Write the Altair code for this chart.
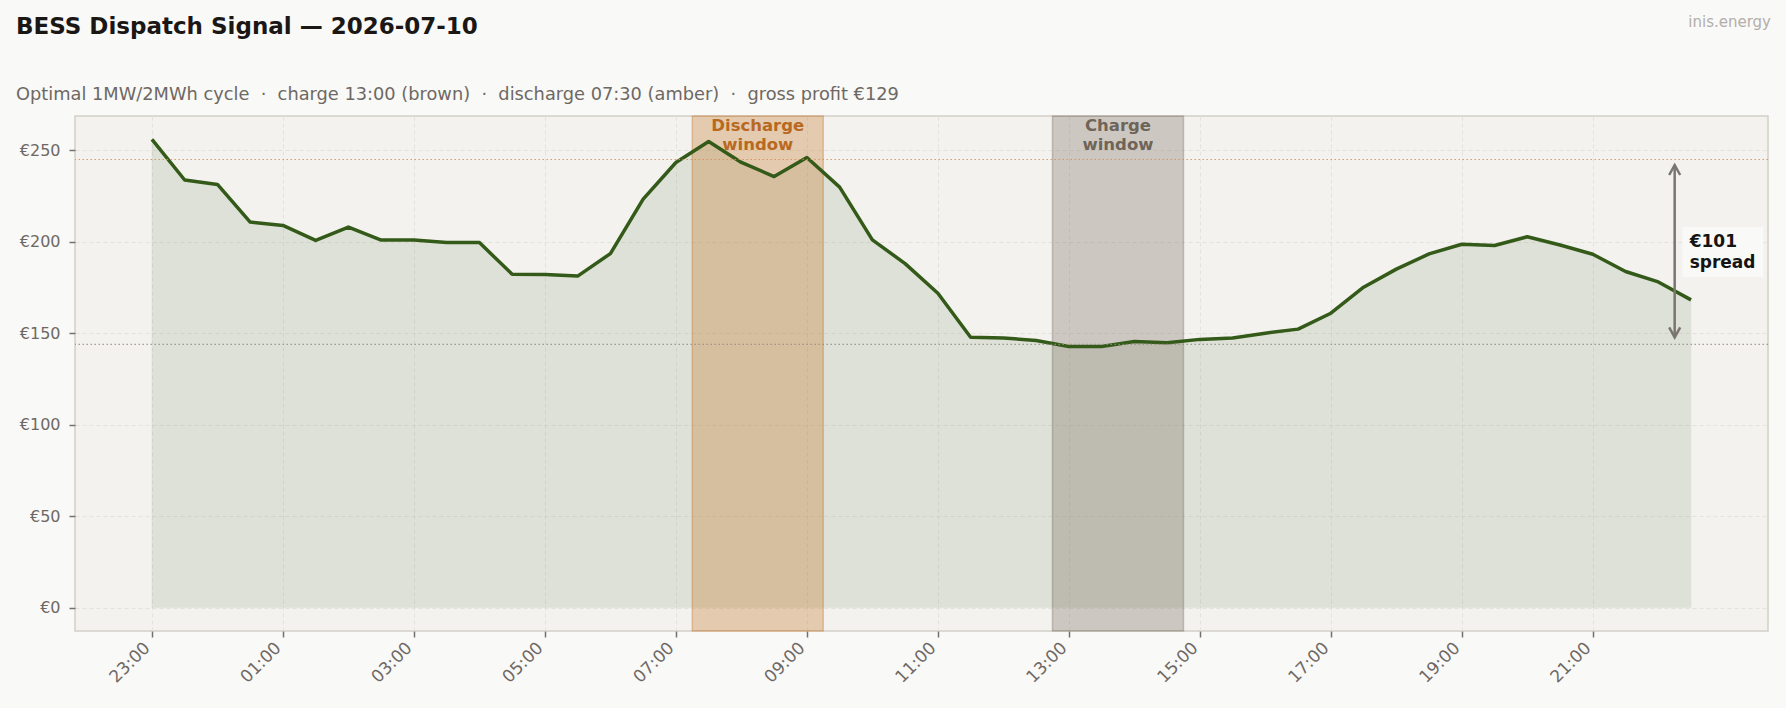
import altair as alt
import pandas as pd

# ---------------- data ----------------
date_label = "2026-07-10"
slot_start = "2026-07-09 23:00"
prices = [255.9, 233.7, 231.3, 210.7, 208.9, 200.7, 208.0, 200.9, 200.9, 199.5,
          199.5, 182.2, 182.0, 181.2, 193.5, 223.3, 243.3, 254.8, 243.3, 235.6,
          246.0, 229.8, 201.0, 188.0, 171.8, 147.8, 147.4, 146.0, 142.7, 142.7,
          145.4, 144.8, 146.6, 147.4, 150.0, 152.2, 160.9, 175.1, 185.0, 193.3,
          198.6, 197.9, 202.7, 198.2, 193.1, 183.7, 178.0, 168.2]

window_names = ["Discharge", "Charge"]
window_starts = ["2026-07-10 07:15", "2026-07-10 12:45"]
window_ends = ["2026-07-10 09:15", "2026-07-10 14:45"]
window_slots = [["2026-07-10 07:30", "2026-07-10 08:00", "2026-07-10 08:30", "2026-07-10 09:00"],
                ["2026-07-10 13:00", "2026-07-10 13:30", "2026-07-10 14:00", "2026-07-10 14:30"]]
spread_time = "2026-07-10 22:15"

x_tick_times = ["2026-07-09 23:00", "2026-07-10 01:00", "2026-07-10 03:00", "2026-07-10 05:00",
                "2026-07-10 07:00", "2026-07-10 09:00", "2026-07-10 11:00", "2026-07-10 13:00",
                "2026-07-10 15:00", "2026-07-10 17:00", "2026-07-10 19:00", "2026-07-10 21:00"]
y_ticks = [0, 50, 100, 150, 200, 250]

title_text = f"BESS Dispatch Signal \u2014 {date_label}"
subtitle_text = ("Optimal 1MW/2MWh cycle \u00a0\u00b7\u00a0 charge 13:00 (brown) \u00a0\u00b7\u00a0 "
                 "discharge 07:30 (amber) \u00a0\u00b7\u00a0 gross profit \u20ac129")
brand_text = "inis.energy"

# ---------------- styling ----------------
FONT = "DejaVu Sans"
GREEN = "#345a19"
AMBER = "#c2701f"
BROWN = "#74665b"
AMBER_TXT = "#b8691f"
BROWN_TXT = "#6f6458"
AMBER_LVL = "#e08a45"
BROWN_LVL = "#958c84"
ARROW = "#7b7571"


def ms(ts):
    return int(pd.Timestamp(ts, tz="UTC").value // 10**6)


times = pd.date_range(slot_start, periods=len(prices), freq="30min")
df = pd.DataFrame({"t": [ms(t) for t in times], "price": prices})

price_by_time = dict(zip([ms(t) for t in times], prices))
window_means = [sum(price_by_time[ms(s)] for s in slots) / len(slots) for slots in window_slots]
hi, lo = window_means[0], window_means[1]

span_h = (times[-1] - times[0]) * 0.05
x_domain = [ms(times[0] - span_h), ms(times[-1] + span_h)]
y_max = max(prices)
y_domain = [-0.05 * y_max, 1.05 * y_max]

xscale = alt.Scale(type="utc", domain=x_domain, nice=False)
yscale = alt.Scale(domain=y_domain, nice=False, zero=False)
xaxis = alt.Axis(values=[ms(t) for t in x_tick_times], format="%H:%M", labelAngle=-45,
                 labelAlign="right", labelBaseline="middle", labelPadding=8,
                 labelOffset=-5, labelFontSize=17, title=None)
yaxis = alt.Axis(values=y_ticks, labelExpr="'\u20ac' + datum.value", labelPadding=9,
                 labelFontSize=16, title=None)


def X(field, **kw):
    return alt.X(field, type="temporal", scale=xscale, axis=xaxis, **kw)


def Y(field, **kw):
    return alt.Y(field, type="quantitative", scale=yscale, axis=yaxis, **kw)


base = alt.Chart(df)

area = base.mark_area(color=GREEN, opacity=0.1, stroke=GREEN, strokeOpacity=0.5,
                      strokeWidth=1).encode(x=X("t"), y=Y("price"), y2=alt.datum(0))

win_df = pd.DataFrame({
    "name": window_names,
    "start": [ms(s) for s in window_starts],
    "end": [ms(e) for e in window_ends],
    "mid": [(ms(s) + ms(e)) // 2 for s, e in zip(window_starts, window_ends)],
    "label": [n + "\nwindow" for n in window_names],
})
win_fill = alt.Fill("name:N", scale=alt.Scale(domain=window_names, range=[AMBER, BROWN]),
                    legend=None)
win_stroke = alt.Stroke("name:N", scale=alt.Scale(domain=window_names, range=[AMBER, BROWN]),
                        legend=None)
spans = alt.Chart(win_df).mark_rect(opacity=1, fillOpacity=0.3, strokeOpacity=0.35,
                                    strokeWidth=1.5).encode(
    x=X("start"), x2="end", y=alt.value(0), y2=alt.value(515),
    fill=win_fill, stroke=win_stroke)
span_labels = alt.Chart(win_df).mark_text(font=FONT, fontSize=16.5, fontWeight="bold",
                                          lineBreak="\n", lineHeight=19.5,
                                          baseline="middle", align="center").encode(
    x=X("mid"), y=alt.value(9.5), text="label:N",
    color=alt.Color("name:N", scale=alt.Scale(domain=window_names,
                                              range=[AMBER_TXT, BROWN_TXT]), legend=None))

line = base.mark_line(color=GREEN, strokeWidth=3.5, strokeJoin="round").encode(
    x=X("t"), y=Y("price"))

lvl_df = pd.DataFrame({"v": [hi, lo], "name": window_names})
levels = alt.Chart(lvl_df).mark_rule(strokeDash=[1.5, 2.5], strokeWidth=1.2,
                                     opacity=0.85).encode(
    y=Y("v"), color=alt.Color("name:N", scale=alt.Scale(domain=window_names,
                                                         range=[AMBER_LVL, BROWN_LVL]),
                              legend=None))

arr_df = pd.DataFrame({"t": [ms(spread_time)], "hi": [hi], "lo": [lo],
                       "mid": [(hi + lo) / 2],
                       "label": [f"\u20ac{round(hi - lo)}\nspread"]})
arr = alt.Chart(arr_df)
shaft = arr.mark_rule(color=ARROW, strokeWidth=2.5, yOffset=5.5, y2Offset=-7).encode(
    x=X("t"), y=Y("hi"), y2="lo")
head_up = arr.mark_point(shape="M -0.55 1 L 0 0 L 0.55 1", size=400, filled=False,
                         strokeWidth=2.5, color=ARROW, opacity=1, yOffset=5.5).encode(
    x=X("t"), y=Y("hi"))
head_dn = arr.mark_point(shape="M -0.55 -1 L 0 0 L 0.55 -1", size=400, filled=False,
                         strokeWidth=2.5, color=ARROW, opacity=1, yOffset=-7).encode(
    x=X("t"), y=Y("lo"))
box = arr.mark_rect(fill="#f9f9f7", opacity=0.9, xOffset=7.7, x2Offset=88.7,
                    yOffset=-25, y2Offset=25).encode(x=X("t"), x2="t", y=Y("mid"), y2="mid")
spread_txt = arr.mark_text(font=FONT, fontSize=17, fontWeight="bold", color="#161412",
                           align="left", baseline="middle", dx=15, dy=-10, lineBreak="\n",
                           lineHeight=21).encode(x=X("t"), y=Y("mid"), text="label:N")

txt_df = pd.DataFrame({"title": [title_text], "subtitle": [subtitle_text], "brand": [brand_text]})
tt = alt.Chart(txt_df)
title = tt.mark_text(font=FONT, fontSize=23, fontWeight="bold", color="#1a1714",
                     align="left", baseline="middle").encode(
    x=alt.value(-59), y=alt.value(-89), text="title:N")
subtitle = tt.mark_text(font=FONT, fontSize=17.8, color="#6e6863", align="left",
                        baseline="middle").encode(
    x=alt.value(-59), y=alt.value(-21.5), text="subtitle:N")
brand = tt.mark_text(font=FONT, fontSize=15, color="#b3aeaa", align="right",
                     baseline="middle").encode(
    x=alt.value(1696), y=alt.value(-94.5), text="brand:N")

chart = alt.layer(area, spans, line, levels, shaft, head_up, head_dn, box, spread_txt,
                  span_labels, title, subtitle, brand).resolve_scale(
    color="independent", fill="independent", stroke="independent",
).properties(
    width=1693, height=515,
    padding={"left": 75, "top": 116, "right": 18, "bottom": 77},
    autosize=alt.AutoSizeParams(type="none"),
    background="#f9f9f7",
).configure_view(
    fill="#f3f2ee", stroke="#d3cfc9", strokeWidth=1.5,
).configure_axis(
    labelFont=FONT, labelColor="#6e6864",
    tickColor="#77716c", tickWidth=1.5, tickSize=6,
    domain=False, grid=True, gridColor="#e4e2dc", gridDash=[4, 3], gridWidth=1,
)

chart.save("out.html", embed_options={"renderer": "svg", "actions": False})
